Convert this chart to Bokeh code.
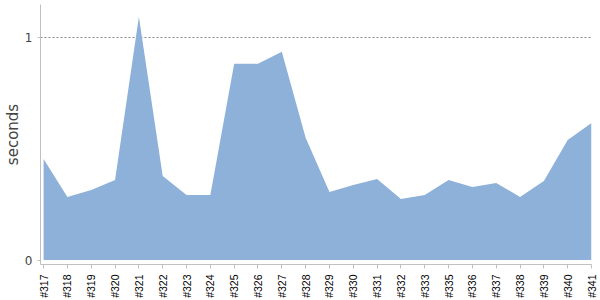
from bokeh.plotting import figure
from bokeh.models import Range1d, FixedTicker
from bokeh.embed import file_html
from bokeh.resources import INLINE

builds = ["#317", "#318", "#319", "#320", "#321", "#322", "#323", "#324", "#325", "#326",
          "#327", "#328", "#329", "#330", "#331", "#332", "#333", "#335", "#336", "#337",
          "#338", "#339", "#340", "#341"]
seconds = [0.455, 0.284, 0.315, 0.36, 1.095, 0.378, 0.293, 0.293, 0.883, 0.883,
           0.937, 0.55, 0.306, 0.338, 0.365, 0.275, 0.293, 0.36, 0.329, 0.347,
           0.284, 0.356, 0.54, 0.617]
y_ticks = [0, 1]

xs = list(range(len(builds)))

p = figure(width=600, height=300, output_backend="svg", toolbar_location=None,
           x_range=Range1d(-0.13, len(builds) - 1), y_range=Range1d(-0.02, 1.15),
           min_border_left=2, min_border_right=9, min_border_top=4, min_border_bottom=8)
p.outline_line_color = None
p.background_fill_color = "white"

p.varea(x=xs, y1=0, y2=seconds, fill_color="#8eb1da", fill_alpha=1.0)

p.xaxis.ticker = FixedTicker(ticks=xs)
p.xaxis.major_label_overrides = {i: b for i, b in enumerate(builds)}
p.xaxis.major_label_orientation = 1.5708
p.xaxis.major_label_text_font = "Liberation Sans"
p.xaxis.major_label_text_font_size = "10.5px"
p.xaxis.major_label_text_color = "#000000"
p.xaxis.axis_line_color = "#c0c0c0"
p.xaxis.major_tick_line_color = "#c0c0c0"
p.xaxis.major_tick_out = 4
p.xaxis.major_tick_in = 0
p.xaxis.minor_tick_line_color = None
p.xaxis.major_label_standoff = 6

p.yaxis.ticker = FixedTicker(ticks=y_ticks)
p.yaxis.axis_label = "seconds"
p.yaxis.axis_label_text_font = "DejaVu Sans"
p.yaxis.axis_label_text_font_size = "15px"
p.yaxis.axis_label_text_font_style = "normal"
p.yaxis.axis_label_text_color = "#444444"
p.yaxis.axis_label_standoff = 0
p.yaxis.major_label_text_font = "DejaVu Sans"
p.yaxis.major_label_text_font_size = "12px"
p.yaxis.major_label_text_color = "#444444"
p.yaxis.axis_line_color = "#c0c0c0"
p.yaxis.major_tick_line_color = "#c0c0c0"
p.yaxis.major_tick_out = 3
p.yaxis.major_tick_in = 0
p.yaxis.minor_tick_line_color = None
p.yaxis.major_label_standoff = 5

p.xgrid.grid_line_color = None
p.ygrid.ticker = FixedTicker(ticks=[1])
p.ygrid.grid_line_color = "#888888"
p.ygrid.grid_line_dash = "2 2"
p.ygrid.grid_line_width = 1

open("out.html", "w").write(file_html(p, INLINE))
